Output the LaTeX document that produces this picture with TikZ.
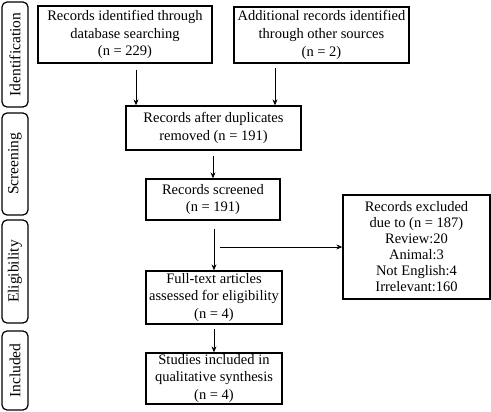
\documentclass[tikz,border=0pt]{standalone}
\usepackage{fontspec}
\setmainfont{Liberation Serif}
\usetikzlibrary{arrows.meta}
\tikzset{
  stagebox/.style={draw, line width=1.2pt, rounded corners=5pt, minimum width=26pt,
    inner sep=0pt, font=\fontsize{15.5}{18}\selectfont},
  flowbox/.style={draw, line width=1.3pt, align=center, inner sep=0pt,
    font=\fontsize{14.5}{17.7}\selectfont},
  arr/.style={line width=0.8pt, -{Stealth[length=6pt,width=5pt]}}
}
\begin{document}
\begin{tikzpicture}[x=1pt,y=-1pt]
  \useasboundingbox (0,0) rectangle (491,412);
  % stages
  \node[stagebox, minimum height=105pt] (ident) at (15,54.5) {};
  \node[rotate=90, font=\fontsize{15.5}{18}\selectfont] at (ident) {Identification};
  \node[stagebox, minimum height=102pt] (screen) at (15,164) {};
  \node[rotate=90, font=\fontsize{15.5}{18}\selectfont] at (screen) {Screening};
  \node[stagebox, minimum height=103pt] (elig) at (15,271.5) {};
  \node[rotate=90, font=\fontsize{15.5}{18}\selectfont] at (elig) {Eligibility};
  \node[stagebox, minimum height=79pt] (incl) at (15,370.5) {};
  \node[rotate=90, font=\fontsize{15.5}{18}\selectfont] at (incl) {Included};
  % boxes
  \node[flowbox, minimum width=174pt, minimum height=57pt] (db) at (125,34.5)
    {Records identified through\\database searching\\(n = 229)};
  \node[flowbox, minimum width=175pt, minimum height=56pt] (other) at (321.5,35)
    {Additional records identified\\through other sources\\(n = 2)};
  \node[flowbox, minimum width=175pt, minimum height=44pt] (dup) at (213.5,128)
    {Records after duplicates\\removed (n = 191)};
  \node[flowbox, minimum width=134pt, minimum height=41pt] (screened) at (213,199.5)
    {Records screened\\(n = 191)};
  \node[flowbox, minimum width=136pt, minimum height=53pt] (full) at (214,297.5)
    {Full-text articles\\assessed for eligibility\\(n = 4)};
  \node[flowbox, minimum width=136pt, minimum height=51pt] (incl2) at (214,378.5)
    {Studies included in\\qualitative synthesis\\(n = 4)};
  \node[flowbox, minimum width=147pt, minimum height=104pt,
    font=\fontsize{14.5}{16}\selectfont] (excl) at (416.5,247)
    {Records excluded\\due to (n = 187)\\Review:20\\Animal:3\\Not English:4\\Irrelevant:160};
  \coordinate (split) at (220,247);
  % arrows
  \draw[arr, shorten <=6pt] ([xshift=11pt]db.south) -- ([xshift=11pt]db.south |- dup.north);
  \draw[arr, shorten <=4pt] ([xshift=-46.5pt]other.south) -- ([xshift=-46.5pt]other.south |- dup.north);
  \draw[arr, shorten <=5pt] (dup.south -| screened) -- (screened.north);
  \draw[arr, shorten <=8pt] (screened.south -| full) -- (full.north);
  \draw[arr] (split) -- (excl.west);
  \draw[arr, shorten <=4pt] (full.south) -- (incl2.north);
\end{tikzpicture}
\end{document}
